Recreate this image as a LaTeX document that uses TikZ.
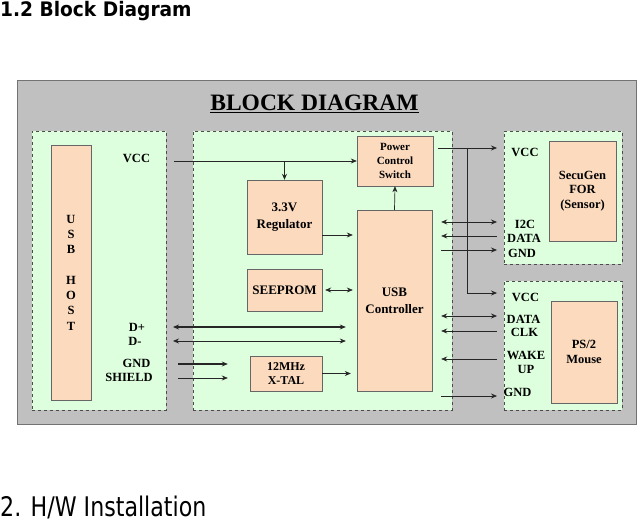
\documentclass[tikz,border=0pt]{standalone}
\usepackage{fontspec}
\setmainfont{Liberation Serif}
\newfontfamily\headfont{DejaVu Sans}
\usetikzlibrary{arrows.meta,positioning}

\definecolor{panelgreen}{RGB}{222,255,222}
\definecolor{blockpeach}{RGB}{251,218,190}
\definecolor{framegray}{RGB}{192,192,192}

\begin{document}
\begin{tikzpicture}[x=1pt, y=-1pt, >={Stealth[length=6pt,width=5pt]},
	   font=\bfseries\fontsize{12.5}{14.5}\selectfont,
	   panel/.style={draw=black!70, dashed, fill=panelgreen, inner sep=0pt},
	   blk/.style={draw=black!60, fill=blockpeach, align=center, inner sep=0pt},
	   lbl/.style={inner sep=0pt, align=center},
	   sig/.style={line width=0.7pt, black!85}]
	  \useasboundingbox (0,0) rectangle (637,521);
	  % headings outside the drawing
	  \node[anchor=base west, inner sep=0pt, font=\headfont\bfseries\fontsize{20}{22}\selectfont] (sechead)
	    at (0,17) {\scalebox{0.93}[1]{1.2 Block Diagram}};
	  \node[anchor=base west, inner sep=0pt, font=\headfont\fontsize{27}{30}\selectfont] (nexthead)
	    at (0,516) {\scalebox{0.82}[1]{2. H/W Installation}};
	  % frame and panels
	  \node[draw=black!55, line width=1pt, fill=framegray, minimum width=619, minimum height=343] (frame) at (326.5,252.5) {};
	  \node[lbl, font=\bfseries\fontsize{23.5}{25}\selectfont] (bdtitle) at (314.5,104) {\underline{BLOCK DIAGRAM}};
	  \node[panel, minimum width=134, minimum height=279] (hostpnl) at (99,270.5) {};
	  \node[panel, minimum width=259, minimum height=279] (ctrlpnl) at (322.5,270.5) {};
	  \node[panel, minimum width=118, minimum height=133] (senspnl) at (563,197.5) {};
	  \node[panel, minimum width=118, minimum height=129] (mousepnl) at (563,345.5) {};
	  % blocks
	  \node[blk, minimum width=40, minimum height=255] (usbhost) at (71,272.5) {};
	  \node[lbl, font=\bfseries\fontsize{12.5}{15.3}\selectfont] (hosttxt) at (usbhost.center) {U\\S\\B\\[15.3pt]H\\O\\S\\T};
	  \node[blk, minimum width=75, minimum height=74, font=\bfseries\fontsize{13}{17}\selectfont] (reg) at (284.5,217) {3.3V\\Regulator};
	  \node[blk, minimum width=75, minimum height=42, font=\bfseries\fontsize{13}{15}\selectfont] (seeprom) at (284.5,290) {SEEPROM};
	  \node[blk, minimum width=72, minimum height=35, font=\bfseries\fontsize{12}{13.5}\selectfont] (xtal) at (286,373.5) {12MHz\\X-TAL};
	  \node[blk, minimum width=76, minimum height=50, font=\bfseries\fontsize{11}{14}\selectfont] (pwrsw) at (395,161) {Power\\Control\\Switch};
	  \node[blk, minimum width=75, minimum height=181, font=\bfseries\fontsize{13}{17}\selectfont] (usbctl) at (394.5,300.5) {USB\\Controller};
	  \node[blk, minimum width=67, minimum height=100] (sensor) at (582.5,191) {SecuGen\\FOR\\(Sensor)};
	  \node[blk, minimum width=66, minimum height=102] (mouse) at (584,352) {PS/2\\Mouse};
	  % pin labels
	  \node[lbl] (hvcc) at (136.5,158) {VCC};
	  \node[lbl] (hdp) at (137,327) {D+};
	  \node[lbl] (hdm) at (135,341) {D-};
	  \node[lbl] (hgnd) at (136.5,363) {GND};
	  \node[lbl] (hshield) at (129,377) {SHIELD};
	  \node[lbl] (svcc) at (525,152) {VCC};
	  \node[lbl] (si2c) at (525,224) {I2C};
	  \node[lbl] (sdata) at (524,238) {DATA};
	  \node[lbl] (sgnd) at (522,253) {GND};
	  \node[lbl] (mvcc) at (525.5,297) {VCC};
	  \node[lbl] (mdata) at (523.5,319) {DATA};
	  \node[lbl] (mclk) at (524.5,332) {CLK};
	  \node[lbl, font=\bfseries\fontsize{12.5}{14}\selectfont] (mwake) at (526,362) {WAKE\\UP};
	  \node[lbl] (mgnd) at (517.5,392) {GND};
	  % free ends
	  \coordinate (vccin) at (174,161);
	  \coordinate (dpin) at (173,327);
	  \coordinate (dmin) at (173,341);
	  \coordinate (gndin) at (178,364);
	  \coordinate (shin) at (178,378);
	  \coordinate (pwrout) at (438,148);
	  \coordinate (tap) at (467,148);
	  \coordinate (senvcc) at (497,148);
	  \coordinate (msvcc) at (497,293);
	  \coordinate (i2cR) at (497,222);
	  \coordinate (sdatR) at (497,236);
	  \coordinate (sgndR) at (497,250);
	  \coordinate (mdatR) at (497,316);
	  \coordinate (mclkR) at (497,331);
	  \coordinate (mwakR) at (497,359);
	  \coordinate (mgndR) at (497,396);
	  \coordinate (regout) at ([yshift=-18pt]reg.east);
	  % power
	  \draw[sig, ->] (vccin) -- (pwrsw.west);
	  \draw[sig, ->] (reg.north |- vccin) -- (reg.north);
	  \draw[sig, ->] (regout) -- ([xshift=-4pt]usbctl.west |- regout);
	  \draw[sig, ->] (usbctl.north) -- (pwrsw.south);
	  \draw[sig, ->] (pwrout) -- (senvcc);
	  \draw[sig, ->] (tap) |- (msvcc);
	  % controller side
	  \draw[sig, <->] ([xshift=3pt]seeprom.east) -- ([xshift=-4pt]usbctl.west |- seeprom.east);
	  \draw[sig, ->] (xtal.east) -- ([xshift=-6pt]usbctl.west |- xtal.east);
	  \draw[sig, <->, line width=1.2pt] (dpin) -- ([xshift=-11pt]usbctl.west |- dpin);
	  \draw[sig, <->] (dmin) -- ([xshift=-11pt]usbctl.west |- dmin);
	  \draw[sig, ->, line width=1.1pt] (gndin) -- ([xshift=-22pt]xtal.west |- gndin);
	  \draw[sig, ->] (shin) -- ([xshift=-22pt]xtal.west |- shin);
	  % sensor and mouse lines
	  \draw[sig, <->] ([xshift=9pt]usbctl.east |- i2cR) -- (i2cR);
	  \draw[sig, <-] ([xshift=9pt]usbctl.east |- sdatR) -- (sdatR);
	  \draw[sig, ->] ([xshift=9pt]usbctl.east |- sgndR) -- (sgndR);
	  \draw[sig, <->] ([xshift=9pt]usbctl.east |- mdatR) -- (mdatR);
	  \draw[sig, <-] ([xshift=9pt]usbctl.east |- mclkR) -- (mclkR);
	  \draw[sig, <-] ([xshift=9pt]usbctl.east |- mwakR) -- (mwakR);
	  \draw[sig, ->] ([xshift=9pt]usbctl.east |- mgndR) -- (mgndR);
	\end{tikzpicture}
\end{document}
